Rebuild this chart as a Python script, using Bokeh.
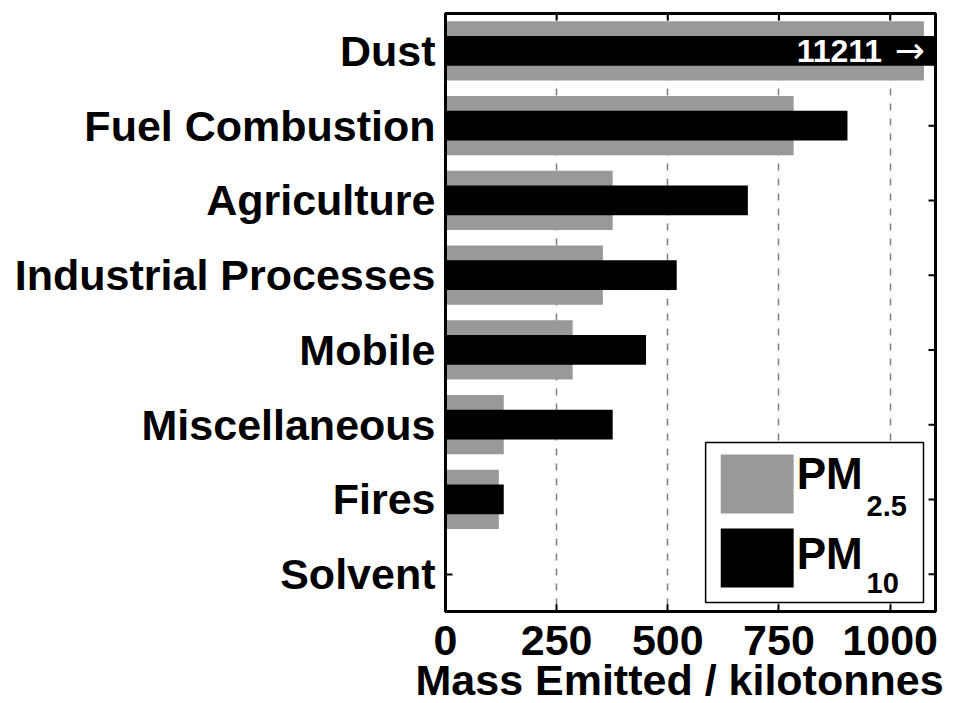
from bokeh.plotting import figure
from bokeh.models import (ColumnDataSource, Range1d, FixedTicker,
                          BoxAnnotation, Label, Title)
from bokeh.core.properties import value
from bokeh.embed import file_html
from bokeh.resources import INLINE

# Emission sources, top to bottom
categories = ["Dust", "Fuel Combustion", "Agriculture", "Industrial Processes",
              "Mobile", "Miscellaneous", "Fires", "Solvent"]
# Mass emitted, kilotonnes
pm25 = [1076, 783, 376, 354, 286, 131, 120, 0]
pm10 = [11211, 904, 680, 520, 451, 376, 131, 0]
x_ticks = [0, 250, 500, 750, 1000]
x_title = "Mass Emitted / kilotonnes"

X_END = 1102
FONT = "Liberation Sans"
FRAME_W, FRAME_H = 490, 598
TICK_LEN = 7  # px

pos = list(range(1, len(categories) + 1))
Y_START, Y_END = len(categories) + 0.5, 0.5
PX_X = X_END / FRAME_W                 # data units per pixel, x
PX_Y = (Y_START - Y_END) / FRAME_H     # data units per pixel, y
src = ColumnDataSource(dict(y=pos, cat=categories, pm25=pm25, pm10=pm10))

p = figure(width=959, height=703, output_backend="svg", toolbar_location=None,
           x_range=Range1d(0, X_END), y_range=Range1d(Y_START, Y_END),
           min_border_left=445, min_border_right=24, min_border_top=13,
           min_border_bottom=92)
p.background_fill_color = "white"
p.border_fill_color = "white"
p.outline_line_color = "black"
p.outline_line_width = 3

# bars: wide grey PM2.5 behind, narrow black PM10 in front
p.hbar(y="y", left=0, right="pm25", height=0.79, source=src,
       fill_color="#999999", line_color=None)
p.hbar(y="y", left=0, right="pm10", height=0.40, source=src,
       fill_color="black", line_color=None)

# value label (number + arrow) for bars running past the axis end
over = [(v, y) for v, y in zip(pm10, pos) if v > X_END]
osrc = ColumnDataSource(dict(
    xn=[X_END - 120 for _ in over], xa=[X_END - 24 for _ in over],
    y=[o[1] for o in over], t=[str(o[0]) for o in over],
    a=["\u2192" for _ in over]))
p.text(x="xn", y="y", text="t", source=osrc, text_color="white",
       text_font=value(FONT), text_font_style="bold", text_font_size="32px",
       text_align="right", text_baseline="middle")
p.text(x="xa", y="y", text="a", source=osrc, text_color="white",
       text_font=value("DejaVu Sans"), text_font_size="36px",
       text_align="right", text_baseline="middle")

# inward tick marks mirrored on the top and right edges
p.segment(x0=x_ticks, x1=x_ticks, y0=[Y_END] * len(x_ticks),
          y1=[Y_END + TICK_LEN * PX_Y] * len(x_ticks),
          line_color="black", line_width=2)
p.segment(x0=[X_END] * len(pos), x1=[X_END - TICK_LEN * PX_X] * len(pos),
          y0=pos, y1=pos, line_color="black", line_width=2)

# axes
xax = p.xaxis[0]
xax.ticker = FixedTicker(ticks=x_ticks)
yax = p.yaxis[0]
yax.ticker = FixedTicker(ticks=pos)
yax.major_label_overrides = {i: c for i, c in zip(pos, categories)}

for ax in (xax, yax):
    ax.axis_line_color = "black"
    ax.axis_line_width = 3
    ax.major_tick_in = TICK_LEN
    ax.major_tick_out = 0
    ax.major_tick_line_width = 2
    ax.minor_tick_line_color = None
    ax.major_label_text_font = FONT
    ax.major_label_text_font_style = "bold"
    ax.major_label_text_font_size = "43px"
    ax.major_label_text_color = "black"

xax.major_label_standoff = 14
yax.major_label_standoff = 10

# x-axis title under the tick labels
p.add_layout(Title(text=x_title, align="left", offset=-30, standoff=-7,
                   text_font=FONT, text_font_style="bold",
                   text_font_size="43px", text_color="black"), "below")

# grid: dashed vertical lines only
p.ygrid.grid_line_color = None
p.xgrid.ticker = FixedTicker(ticks=x_ticks[1:])
p.xgrid.grid_line_color = "#7f7f7f"
p.xgrid.grid_line_width = 1.5
p.xgrid.grid_line_dash = "7 8"

# legend box with subscripted labels
p.add_layout(BoxAnnotation(left=585, right=1075, top=6.24, bottom=8.38,
                           fill_color="white", fill_alpha=1.0,
                           line_color="black", line_width=1.5, line_alpha=1.0))
p.add_layout(BoxAnnotation(left=619, right=783, top=6.40, bottom=7.19,
                           fill_color="#999999", fill_alpha=1.0, line_color=None))
p.add_layout(BoxAnnotation(left=619, right=783, top=7.39, bottom=8.18,
                           fill_color="black", fill_alpha=1.0, line_color=None))

def leg_text(x, y, t, size):
    p.add_layout(Label(x=x, y=y, text=t, text_font=FONT, text_font_style="bold",
                       text_font_size=size, text_color="black",
                       text_baseline="alphabetic", text_align="left"))

leg_text(790, 6.66, "PM", "44px")
leg_text(947, 7.09, "2.5", "29px")
leg_text(790, 7.72, "PM", "44px")
leg_text(947, 8.12, "10", "29px")

open("out.html", "w").write(file_html(p, INLINE))
